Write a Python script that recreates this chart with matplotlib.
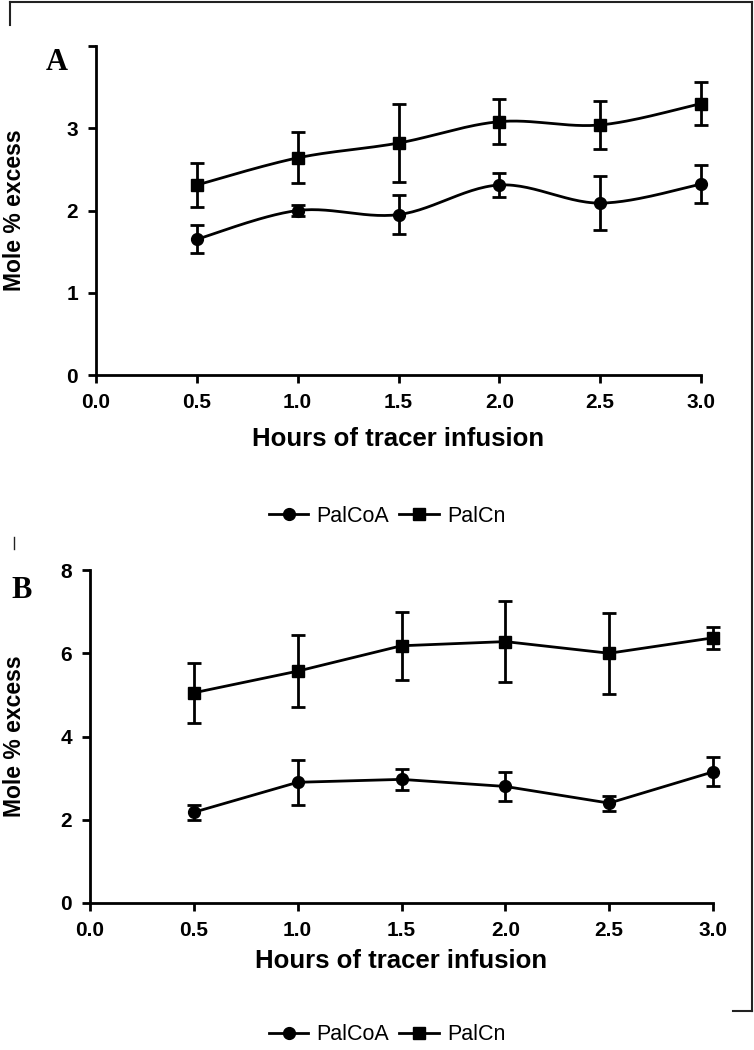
import numpy as np
import matplotlib
matplotlib.use("Agg")
import matplotlib.pyplot as plt
from matplotlib.lines import Line2D

# ---------------- data ----------------
hours = [0.5, 1.0, 1.5, 2.0, 2.5, 3.0]

a_palcoa = [1.65, 2.00, 1.95, 2.31, 2.09, 2.32]
a_palcoa_err = [0.17, 0.07, 0.24, 0.14, 0.33, 0.23]
a_palcn = [2.31, 2.64, 2.82, 3.08, 3.04, 3.30]
a_palcn_err = [0.27, 0.31, 0.47, 0.27, 0.29, 0.26]

b_palcoa = [2.18, 2.90, 2.97, 2.80, 2.40, 3.15]
b_palcoa_err = [0.18, 0.54, 0.25, 0.34, 0.18, 0.35]
b_palcn = [5.05, 5.57, 6.18, 6.28, 6.00, 6.37]
b_palcn_err = [0.72, 0.86, 0.82, 0.98, 0.97, 0.26]

x_ticks = [0.0, 0.5, 1.0, 1.5, 2.0, 2.5, 3.0]
x_ticklabels = ["0.0", "0.5", "1.0", "1.5", "2.0", "2.5", "3.0"]
a_yticks = [0, 1, 2, 3, 4]
a_yticklabels = ["0", "1", "2", "3", ""]
b_yticks = [0, 2, 4, 6, 8]
b_yticklabels = ["0", "2", "4", "6", "8"]

series_names = ["PalCoA", "PalCn"]
xlabel = "Hours of tracer infusion"
ylabel = "Mole % excess"

plt.rcParams["font.family"] = ["Liberation Sans", "DejaVu Sans"]

W, H = 754, 1050
fig = plt.figure(figsize=(W / 100, H / 100), dpi=100)


def smooth(xs, ys, n=30):
    """Excel-style smoothed line (Bezier through the points)."""
    xs = np.asarray(xs, float)
    ys = np.asarray(ys, float)
    px = np.concatenate([[xs[0]], xs, [xs[-1]]])
    py = np.concatenate([[ys[0]], ys, [ys[-1]]])
    ox, oy = [], []
    t = np.linspace(0, 1, n)
    for i in range(1, len(px) - 2):
        p0x, p1x, p2x, p3x = px[i - 1], px[i], px[i + 1], px[i + 2]
        p0y, p1y, p2y, p3y = py[i - 1], py[i], py[i + 1], py[i + 2]
        c1x = p1x + (p2x - p0x) / 6
        c1y = p1y + (p2y - p0y) / 6
        c2x = p2x - (p3x - p1x) / 6
        c2y = p2y - (p3y - p1y) / 6
        bx = (1 - t) ** 3 * p1x + 3 * (1 - t) ** 2 * t * c1x + 3 * (1 - t) * t ** 2 * c2x + t ** 3 * p2x
        by = (1 - t) ** 3 * p1y + 3 * (1 - t) ** 2 * t * c1y + 3 * (1 - t) * t ** 2 * c2y + t ** 3 * p2y
        ox.extend(bx)
        oy.extend(by)
    return np.array(ox), np.array(oy)


def style_axes(ax, yticks, yticklabels, ymax):
    ax.set_xlim(0, 3.0)
    ax.set_ylim(0, ymax)
    for s in ["top", "right"]:
        ax.spines[s].set_visible(False)
    for s in ["left", "bottom"]:
        ax.spines[s].set_linewidth(2.0)
    ax.set_xticks(x_ticks)
    ax.set_xticklabels(x_ticklabels)
    ax.set_yticks(yticks)
    ax.set_yticklabels(yticklabels)
    ax.tick_params(direction="out", length=6, width=2.0, labelsize=15, pad=7)
    for lab in ax.get_xticklabels() + ax.get_yticklabels():
        lab.set_fontweight("bold")
    ax.set_xlabel(xlabel, fontsize=18.5, fontweight="bold", va="center")
    ax.set_ylabel(ylabel, fontsize=16.5, fontweight="bold")
    ax.patch.set_visible(False)


lw = 2.0
ms_c = 8.5
ms_s = 8.0
ekw = dict(ecolor="black", elinewidth=2.0, capsize=5, capthick=2.0, ls="none")


def draw_err(ax, y, e, fmt, ms):
    cont = ax.errorbar(hours, y, yerr=e, fmt=fmt, color="black", ms=ms, **ekw)
    for art in cont.lines[0:1] + tuple(cont.lines[1]) + tuple(cont.lines[2]):
        art.set_clip_on(False)


# ---------------- panel A ----------------
axA = fig.add_axes([96 / W, 1 - 375 / H, (701 - 96) / W, (375 - 46) / H])
sx, sy = smooth(hours, a_palcoa)
axA.plot(sx, sy, color="black", lw=lw, clip_on=False)
draw_err(axA, a_palcoa, a_palcoa_err, "o", ms_c)
sx, sy = smooth(hours, a_palcn)
axA.plot(sx, sy, color="black", lw=lw, clip_on=False)
draw_err(axA, a_palcn, a_palcn_err, "s", ms_s)
style_axes(axA, a_yticks, a_yticklabels, 4)
axA.yaxis.set_label_coords((26 - 96) / (701 - 96), 0.5)
axA.xaxis.set_label_coords(0.5, (375 - 439) / (375 - 46))

# ---------------- panel B ----------------
axB = fig.add_axes([90 / W, 1 - 903 / H, (713 - 90) / W, (903 - 570) / H])
axB.plot(hours, b_palcoa, color="black", lw=lw, clip_on=False)
draw_err(axB, b_palcoa, b_palcoa_err, "o", ms_c)
axB.plot(hours, b_palcn, color="black", lw=lw, clip_on=False)
draw_err(axB, b_palcn, b_palcn_err, "s", ms_s)
style_axes(axB, b_yticks, b_yticklabels, 8)
axB.yaxis.set_label_coords((26 - 90) / (713 - 90), 0.5)
axB.xaxis.set_label_coords(0.5, (903 - 961) / (903 - 570))

# ---------------- legends ----------------
handles = [
    Line2D([], [], color="black", lw=lw, marker="o", ms=ms_c),
    Line2D([], [], color="black", lw=lw, marker="s", ms=ms_s),
]
for ycen in [516, 1035]:
    fig.legend(handles, series_names, loc="center", bbox_to_anchor=(387 / W, 1 - ycen / H),
               ncol=2, frameon=False, fontsize=15.5, handlelength=1.85, handletextpad=0.37,
               columnspacing=0.47)

# ---------------- panel letters ----------------
fig.text(57 / W, 1 - 62 / H, "A", fontsize=22, fontweight="bold",
         family=["Liberation Serif", "DejaVu Serif"], ha="center", va="center")
fig.text(22 / W, 1 - 590 / H, "B", fontsize=22, fontweight="bold",
         family=["Liberation Serif", "DejaVu Serif"], ha="center", va="center")

# ---------------- frame lines ----------------
def fline(xs, ys, w=1.5):
    fig.add_artist(Line2D([x / W for x in xs], [1 - y / H for y in ys],
                          color="#222222", lw=w, transform=fig.transFigure))

fline([10, 10], [25, 2])
fline([10, 752], [2, 2])
fline([752, 752], [2, 1011])
fline([733, 752], [1011, 1011])
fline([14, 14], [537, 549], w=1.0)

fig.savefig("out.png", dpi=100)
